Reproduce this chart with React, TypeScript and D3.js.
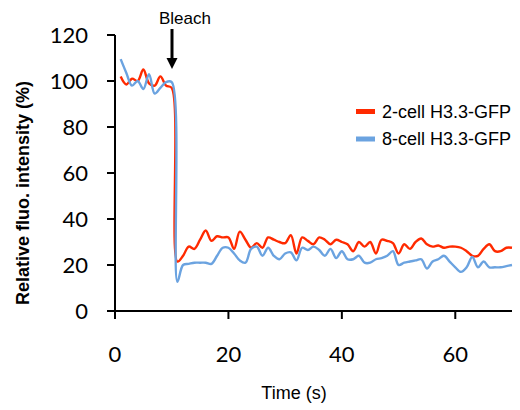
import React from "react";
import * as d3 from "d3";

const times: number[] = Array.from({ length: 70 }, (_, i) => i + 1);

const red2cell: number[] = [
  102, 98.5, 101, 100, 105, 99, 98, 102, 98, 97,
  21.5, 24, 28, 27, 31, 35, 30.5, 32.5, 32, 32,
  27, 34.5, 31, 27.5, 29.5, 27.5, 32, 31, 30, 29.5,
  33, 25, 32, 30.5, 29, 32, 31, 29, 31, 30,
  29, 26, 30, 28, 30, 25, 31, 30.5, 29.5, 25,
  29, 27, 30, 31.5, 29, 28, 28.5, 27.5, 28, 28,
  27.5, 26, 24, 24, 27, 29, 26, 26, 27.5, 27.5,
];

const blue8cell: number[] = [
  109.5, 103.5, 98, 100, 96.5, 103, 94.5, 97, 99.5, 99.5,
  12.7, 20, 20.5, 21, 21, 21, 20.5, 24, 27.5, 27.5,
  25, 22, 21, 27, 28, 24, 27.5, 24, 22.5, 25,
  25.5, 22, 27.5, 26.5, 28, 26.5, 24, 27, 23, 26,
  22.5, 22.5, 24, 21, 21, 22.5, 23, 24, 26, 20,
  21, 21.5, 22, 22.5, 18.5, 21.5, 22.5, 24, 21.5, 19,
  17, 19, 23.5, 19, 21.5, 19, 19, 19, 19.5, 20,
];

const xTicks: number[] = [0, 20, 40, 60];
const yTicks: number[] = [0, 20, 40, 60, 80, 100, 120];
const seriesNames: string[] = ["2-cell H3.3-GFP", "8-cell H3.3-GFP"];
const seriesColors: string[] = ["#ff2a00", "#6ba3e0"];

export default function App() {
  const x = d3.scaleLinear().domain([0, 70]).range([115, 512]);
  const y = d3.scaleLinear().domain([0, 120]).range([311, 35]);
  const line = d3
    .line<number>()
    .x((_, i) => x(times[i]))
    .y((d) => y(d))
    .curve(d3.curveCatmullRom.alpha(0.5));

  const series = [red2cell, blue8cell];
  const tickFont = "Lato, 'Open Sans', sans-serif";
  const textFont = "'Liberation Sans', Arial, sans-serif";

  return (
    <svg width={520} height={410} style={{ position: "absolute", left: 0, top: 0 }}>
      <rect width={520} height={410} fill="#ffffff" />
      {series.map((s, k) => (
        <path
          key={k}
          d={line(s) || ""}
          fill="none"
          stroke={seriesColors[k]}
          strokeWidth={2.4}
          strokeLinejoin="round"
        />
      ))}
      {/* axes */}
      <line x1={x(0)} x2={x(0)} y1={y(120)} y2={y(0) + 8} stroke="#000" strokeWidth={2} />
      <line x1={x(0)} x2={x(70)} y1={y(0)} y2={y(0)} stroke="#000" strokeWidth={2} />
      {yTicks.map((t) => (
        <g key={"y" + t}>
          <line x1={x(0) - 8} x2={x(0)} y1={y(t)} y2={y(t)} stroke="#000" strokeWidth={2} />
          <text
            x={88}
            y={y(t)}
            dy="0.36em"
            textAnchor="end"
            fontFamily={tickFont}
            fontSize={22}
            fill="#000"
          >
            {t}
          </text>
        </g>
      ))}
      {xTicks.map((t) => (
        <g key={"x" + t}>
          <line x1={x(t)} x2={x(t)} y1={y(0)} y2={y(0) + 8} stroke="#000" strokeWidth={2} />
          <text
            x={x(t)}
            y={362}
            textAnchor="middle"
            fontFamily={tickFont}
            fontSize={22}
            fill="#000"
          >
            {t}
          </text>
        </g>
      ))}
      <text
        transform={`translate(29,193) rotate(-90)`}
        textAnchor="middle"
        fontFamily={textFont}
        fontWeight="bold"
        fontSize={18}
        fill="#000"
      >
        Relative fluo. intensity (%)
      </text>
      <text x={294} y={399} textAnchor="middle" fontFamily={textFont} fontSize={18} fill="#000">
        Time (s)
      </text>
      {/* Bleach annotation */}
      <text x={185} y={24} textAnchor="middle" fontFamily={textFont} fontSize={17} fill="#000">
        Bleach
      </text>
      <line x1={172} x2={172} y1={29} y2={59} stroke="#000" strokeWidth={3} />
      <path d="M166.5,58 L177.5,58 L172,69 Z" fill="#000" />
      {/* legend */}
      {seriesNames.map((n, k) => (
        <g key={n} transform={`translate(356,${111.5 + k * 27.5})`}>
          <line x1={0} x2={19} y1={0} y2={0} stroke={seriesColors[k]} strokeWidth={5} />
          <text x={26} y={0} dy="0.35em" fontFamily={textFont} fontSize={18} fill="#000">
            {n}
          </text>
        </g>
      ))}
    </svg>
  );
}
